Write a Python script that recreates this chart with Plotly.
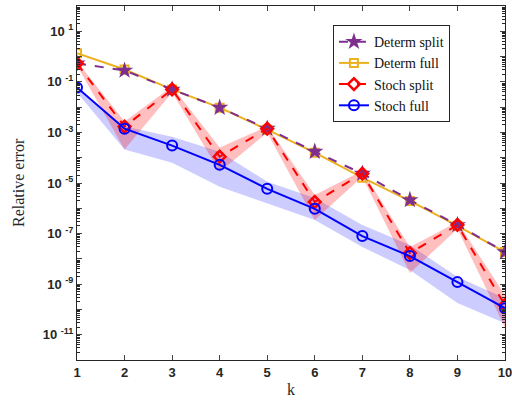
import plotly.graph_objects as go

k = [1, 2, 3, 4, 5, 6, 7, 8, 9, 10]

# values as log10 of relative error
determ_split = [-0.27, -0.55, -1.30, -2.02, -2.85, -3.76, -4.63, -5.67, -6.66, -7.73]
determ_full = [0.13, -0.51, -1.30, -2.02, -2.89, -3.80, -4.79, -5.71, -6.70, -7.73]
stoch_split = [-0.27, -2.77, -1.30, -3.96, -2.85, -5.75, -4.63, -7.77, -6.66, -9.83]
stoch_split_hi = [-0.19, -2.57, -1.18, -3.60, -2.77, -5.47, -4.52, -7.53, -6.54, -9.44]
stoch_split_lo = [-0.35, -3.68, -1.42, -4.56, -3.01, -6.46, -4.75, -8.56, -6.82, -10.71]
stoch_full = [-1.22, -2.85, -3.52, -4.28, -5.23, -6.02, -7.10, -7.89, -8.92, -9.95]
stoch_full_hi = [-1.22, -2.77, -3.17, -3.76, -4.95, -5.59, -6.66, -7.45, -8.72, -9.56]
stoch_full_lo = [-1.42, -3.68, -4.20, -5.15, -5.79, -6.46, -7.53, -8.44, -9.75, -10.55]

ytick_exp = [1, -1, -3, -5, -7, -9, -11]
x_ticks = k

def p(v):
    return [10 ** e for e in v]

fig = go.Figure()

# bands
fig.add_trace(go.Scatter(x=k + k[::-1], y=p(stoch_full_hi) + p(stoch_full_lo)[::-1],
                         fill="toself", fillcolor="rgba(0,0,255,0.2)", line=dict(width=0),
                         mode="lines", showlegend=False, hoverinfo="skip"))
fig.add_trace(go.Scatter(x=k + k[::-1], y=p(stoch_split_hi) + p(stoch_split_lo)[::-1],
                         fill="toself", fillcolor="rgba(255,0,0,0.25)", line=dict(width=0),
                         mode="lines", showlegend=False, hoverinfo="skip"))

fig.add_trace(go.Scatter(x=k, y=p(determ_full), name="Determ full", mode="lines+markers",
                         line=dict(color="#EDB120", width=2),
                         marker=dict(symbol="square-open", size=8, color="#EDB120", line=dict(width=2)),
                         legendrank=2))
fig.add_trace(go.Scatter(x=k, y=p(determ_split), name="Determ split", mode="lines+markers",
                         line=dict(color="#7E2F8E", width=2, dash="dash"),
                         marker=dict(symbol="star", size=13, color="#7E2F8E"),
                         legendrank=1))
fig.add_trace(go.Scatter(x=k, y=p(stoch_split), name="Stoch split", mode="lines+markers",
                         line=dict(color="#FF0000", width=2, dash="dash"),
                         marker=dict(symbol="diamond-open", size=9, color="#FF0000", line=dict(width=2.5)),
                         legendrank=3))
fig.add_trace(go.Scatter(x=k, y=p(stoch_full), name="Stoch full", mode="lines+markers",
                         line=dict(color="#0000FF", width=2),
                         marker=dict(symbol="circle-open", size=10, color="#0000FF", line=dict(width=2)),
                         legendrank=4))

all_dec = list(range(-12, 3))
fig.update_layout(
    width=512, height=402,
    margin=dict(l=77, r=7, t=6, b=42, autoexpand=False),
    plot_bgcolor="white", paper_bgcolor="white",
    legend=dict(x=0.598, y=0.946, xanchor="left", yanchor="top",
                bgcolor="white", bordercolor="#262626", borderwidth=1,
                font=dict(family="Liberation Serif", size=14, color="#111"),
                tracegroupgap=0, itemwidth=30),
    xaxis=dict(range=[1, 10], tickvals=x_ticks, ticks="inside", ticklen=5,
               showline=True, linecolor="#262626", linewidth=1, mirror="allticks",
               showgrid=False, zeroline=False, automargin=False, ticklabeloverflow="allow",
               tickfont=dict(family="Liberation Sans", size=13, color="#262626", weight="bold")),
    yaxis=dict(type="log", range=[-12, 2],
               tickvals=[10 ** e for e in all_dec],
               ticktext=[("10 <sup>%d</sup>" % e) if e in ytick_exp else "" for e in all_dec],
               ticks="inside", ticklen=5,
               minor=dict(ticks="inside", ticklen=3, dtick="D1", showgrid=False, tickcolor="#262626"),
               showline=True, linecolor="#262626", linewidth=1, mirror="allticks",
               showgrid=False, zeroline=False, automargin=False, ticklabeloverflow="allow",
               tickfont=dict(family="Liberation Sans", size=13, color="#262626", weight="bold")),
    annotations=[
        dict(text="k", xref="paper", yref="paper", x=0.5, y=0.0, yshift=-40,
             showarrow=False, xanchor="center", yanchor="bottom",
             font=dict(family="Liberation Serif", size=16, color="#262626")),
        dict(text="Relative error", xref="paper", yref="paper", x=0, xshift=-59, y=0.5,
             textangle=-90, showarrow=False, xanchor="center", yanchor="middle",
             font=dict(family="Liberation Serif", size=16, color="#262626")),
    ],
)

fig.write_html("out.html", config={"displayModeBar": False},
               post_script="document.body.style.margin='0';")
